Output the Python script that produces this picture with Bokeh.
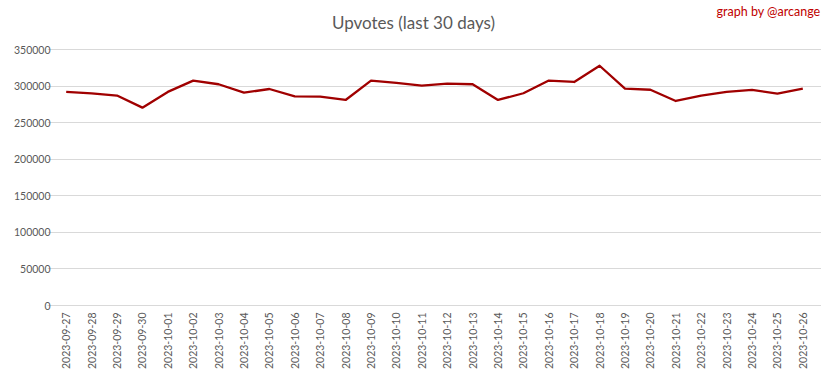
from bokeh.plotting import figure
from bokeh.models import Range1d, FactorRange, FixedTicker, NumeralTickFormatter, Label
from bokeh.embed import file_html
from bokeh.resources import INLINE
import math

dates = ["2023-09-27", "2023-09-28", "2023-09-29", "2023-09-30", "2023-10-01",
         "2023-10-02", "2023-10-03", "2023-10-04", "2023-10-05", "2023-10-06",
         "2023-10-07", "2023-10-08", "2023-10-09", "2023-10-10", "2023-10-11",
         "2023-10-12", "2023-10-13", "2023-10-14", "2023-10-15", "2023-10-16",
         "2023-10-17", "2023-10-18", "2023-10-19", "2023-10-20", "2023-10-21",
         "2023-10-22", "2023-10-23", "2023-10-24", "2023-10-25", "2023-10-26"]
upvotes = [292000, 290000, 287000, 270500, 292000, 307500, 302500, 291000, 296000, 286000,
           285700, 281000, 307500, 304300, 300600, 303300, 302500, 281000, 290200, 307500,
           305600, 327800, 296500, 295000, 279600, 287000, 292000, 294700, 289800, 296600]
y_ticks = [0, 50000, 100000, 150000, 200000, 250000, 300000, 350000]

title_text = "Upvotes (last 30 days)"
credit_text = "graph by @arcange"

FONT = "Lato"
GRAY = "#595959"

# frame extends to the top of the figure so the title texts sit inside it
FRAME_H = 305
AXIS_H = 256  # pixels used by 0..350000
y_top = 350000 * FRAME_H / AXIS_H
FRAME_W = 774
PAD_PX = 12  # total horizontal padding inside the frame

p = figure(x_range=FactorRange(*dates, range_padding=PAD_PX / (FRAME_W - PAD_PX)),
           y_range=Range1d(0, y_top),
           width=821, height=370, frame_width=FRAME_W, frame_height=FRAME_H,
           min_border_left=47, min_border_right=0, min_border_top=0, min_border_bottom=65,
           output_backend="svg", toolbar_location=None)

p.line(x=dates, y=upvotes, line_color="#A00000", line_width=2.3, line_join="round")

p.outline_line_color = None
p.xgrid.grid_line_color = None
p.ygrid.grid_line_color = "#D9D9D9"
p.ygrid.grid_line_width = 1

p.yaxis.ticker = FixedTicker(ticks=y_ticks)
p.yaxis.formatter = NumeralTickFormatter(format="0")
p.yaxis.axis_line_color = None
p.yaxis.major_tick_line_color = None
p.yaxis.minor_tick_line_color = None
p.yaxis.major_tick_in = 0
p.yaxis.major_tick_out = 0
p.yaxis.major_label_standoff = -3
p.yaxis.major_label_text_font = FONT
p.yaxis.major_label_text_font_size = "10.5px"
p.yaxis.major_label_text_color = GRAY

p.xaxis.axis_line_color = "#D9D9D9"
p.xaxis.major_tick_line_color = None
p.xaxis.minor_tick_line_color = None
p.xaxis.major_tick_out = 0
p.xaxis.major_label_standoff = 7
p.xaxis.major_label_orientation = math.pi / 2
p.xaxis.major_label_text_font = FONT
p.xaxis.major_label_text_font_size = "10.5px"
p.xaxis.major_label_text_color = GRAY

p.add_layout(Label(x=366, y=283, x_units="screen", y_units="screen", text=title_text,
                   text_align="center", text_baseline="alphabetic", text_font=FONT,
                   text_font_size="17px", text_color=GRAY))
p.add_layout(Label(x=773, y=294.5, x_units="screen", y_units="screen", text=credit_text,
                   text_align="right", text_baseline="alphabetic", text_font=FONT,
                   text_font_size="12.5px", text_color="#C00000"))

open("out.html", "w").write(file_html(p, INLINE))
